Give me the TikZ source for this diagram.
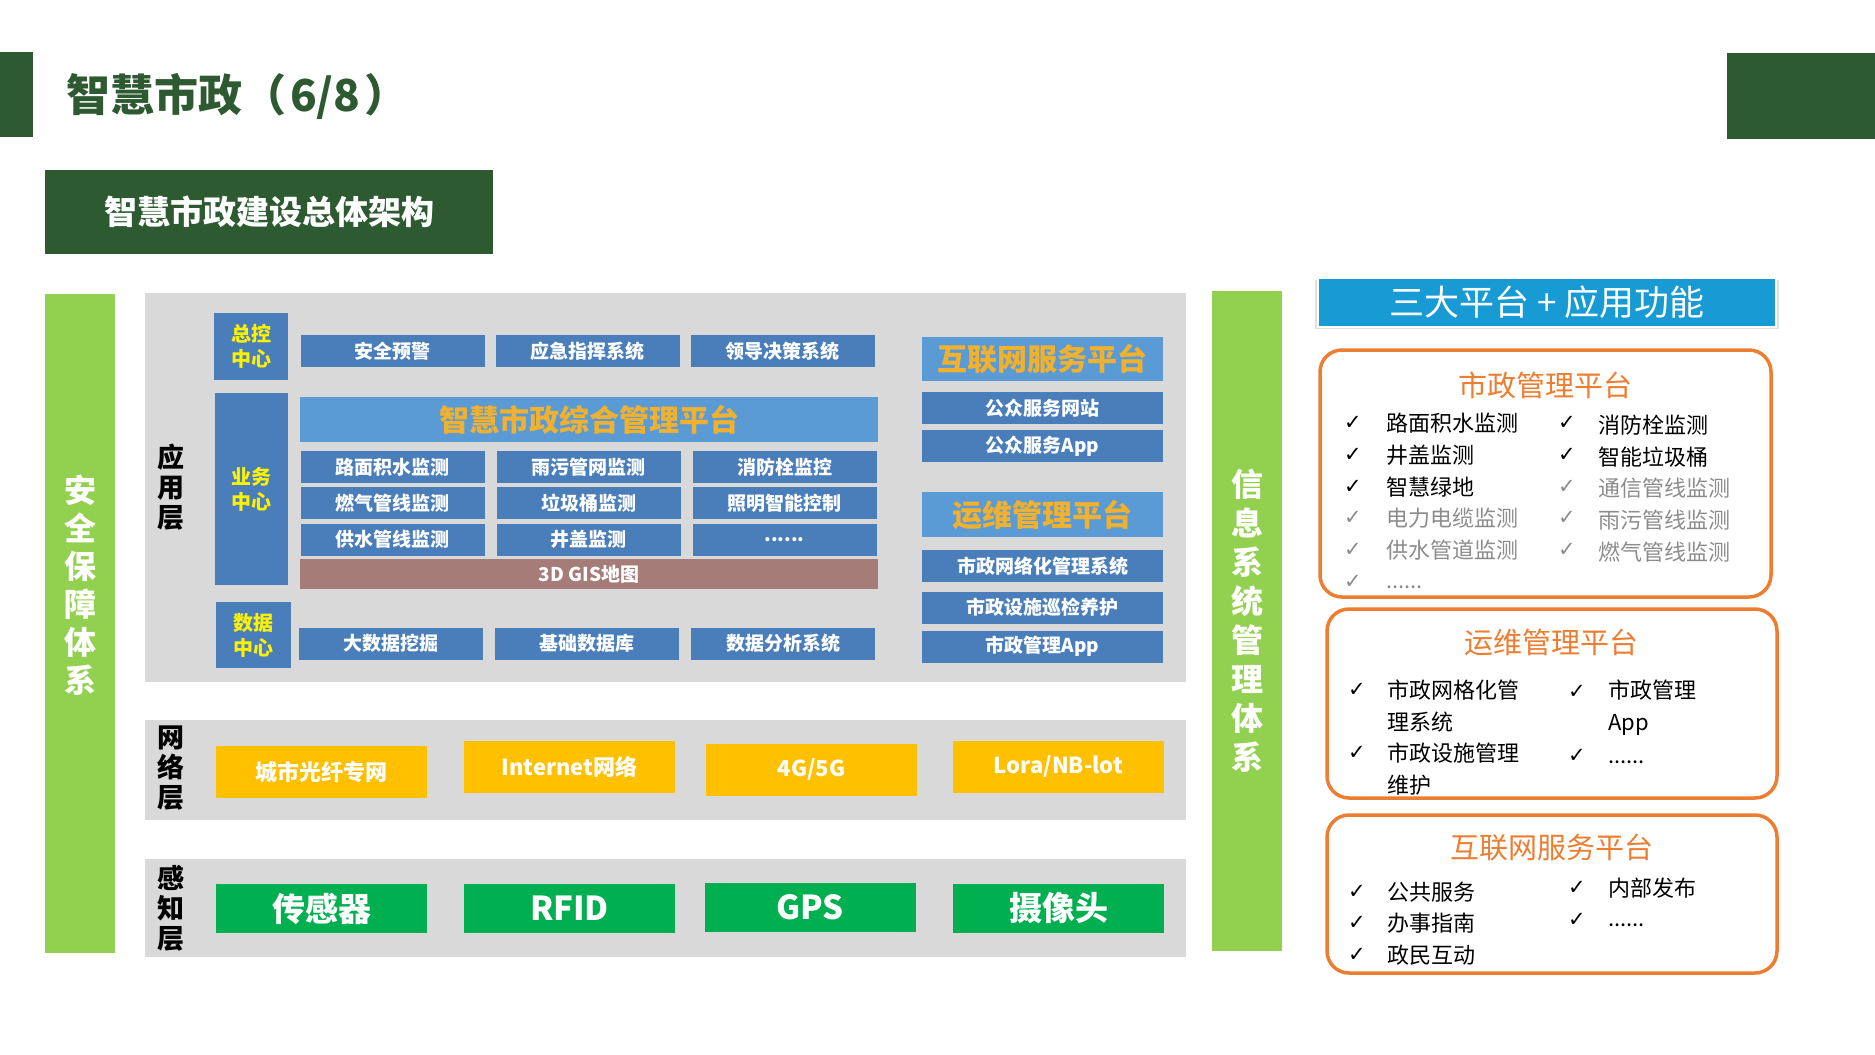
\documentclass[tikz,border=0pt]{standalone}
\usepackage{fontspec}
\setmainfont{Noto Sans CJK SC}
\newfontfamily\symf{DejaVu Sans}
\usetikzlibrary{positioning,shadows}

\definecolor{dkgreen}{RGB}{46,90,50}
\definecolor{ltgreen}{RGB}{146,208,80}
\definecolor{panelgray}{RGB}{217,217,217}
\definecolor{boxblue}{RGB}{74,126,187}
\definecolor{bannerblue}{RGB}{91,155,213}
\definecolor{gold}{RGB}{240,176,48}
\definecolor{gisbrown}{RGB}{166,124,120}
\definecolor{amber}{RGB}{255,192,0}
\definecolor{sensgreen}{RGB}{0,176,80}
\definecolor{orng}{RGB}{237,125,49}
\definecolor{cyanbar}{RGB}{24,154,212}
\definecolor{fadegray}{RGB}{140,140,140}

\tikzstyle{area} = [rectangle, fill=panelgray, inner sep=0pt, minimum width=1041pt]
\tikzstyle{layer} = [align=center, inner sep=0pt, font=\bfseries\fontsize{27}{30}\selectfont]
\tikzstyle{hub} = [rectangle, fill=boxblue, text=yellow, align=center, inner sep=0pt, font=\bfseries\fontsize{20}{25}\selectfont]
\tikzstyle{mod} = [rectangle, fill=boxblue, text=white, inner sep=0pt, minimum width=184pt, minimum height=32pt, font=\bfseries\fontsize{19}{19}\selectfont]
\tikzstyle{plat} = [rectangle, fill=bannerblue, text=gold, inner sep=0pt, minimum height=45pt, font=\bfseries\fontsize{30}{30}\selectfont]
\tikzstyle{net} = [rectangle, fill=amber, text=white, inner sep=0pt, minimum width=211pt, minimum height=52pt, font=\bfseries\fontsize{22}{22}\selectfont]
\tikzstyle{sens} = [rectangle, fill=sensgreen, text=white, inner sep=0pt, minimum width=211pt, minimum height=49pt, font=\bfseries\fontsize{33}{33}\selectfont]
\tikzstyle{pillar} = [rectangle, fill=ltgreen, text=white, align=center, inner sep=0pt, minimum width=70pt, minimum height=660pt, font=\bfseries\fontsize{32}{39}\selectfont]
\tikzstyle{card} = [rectangle, rounded corners=22pt, draw=orng, line width=3.5pt, fill=white, inner sep=0pt]
\tikzstyle{cardtitle} = [text=orng, inner sep=0pt, font=\fontsize{29}{29}\selectfont]
\tikzstyle{tick} = [inner sep=0pt, font=\symf\fontsize{21}{21}\selectfont]
\tikzstyle{feat} = [anchor=west, align=left, inner sep=0pt, font=\fontsize{22}{32}\selectfont]
\tikzstyle{faded} = [text=fadegray]

\begin{document}
\begin{tikzpicture}[x=1pt,y=-1pt,node distance=196pt]
  \useasboundingbox (0,0) rectangle (1875,1055);

  % header
  \node[fill=dkgreen, inner sep=0pt, minimum width=33pt, minimum height=85pt] (tabL) at (16.5,94.5) {};
  \node[fill=dkgreen, inner sep=0pt, minimum width=148pt, minimum height=86pt] (tabR) at (1801,96) {};
  \node[anchor=west, inner sep=0pt, text=dkgreen, font=\bfseries\fontsize{44}{44}\selectfont] (title) at (66,96) {智慧市政（\hspace{4pt}6/8\hspace{4pt}）};
  \node[fill=dkgreen, text=white, inner sep=0pt, minimum width=448pt, minimum height=84pt, font=\bfseries\fontsize{33}{33}\selectfont] (sub) at (269,212) {智慧市政建设总体架构};

  % side pillars
  \node[pillar, minimum height=659pt] (safe) at (80,623.5) {};
  \node[align=center, text=white, inner sep=0pt, font=\bfseries\fontsize{32}{38}\selectfont] (safeT) at (80,585) {安\\全\\保\\障\\体\\系};
  \node[pillar] (info) at (1247,621) {信\\息\\系\\统\\管\\理\\体\\系};

  % application layer
  \node[area, minimum height=389pt] (app) at (665,487.5) {};
  \node[layer] (appL) at (171,487.5) {应\\用\\层};
  \node[hub, minimum width=74pt, minimum height=67pt] (ctrl) at (251,346.5) {总控\\中心};
  \node[hub, minimum width=73pt, minimum height=192pt] (biz) at (251.5,489) {业务\\中心};
  \node[hub, minimum width=75pt, minimum height=66pt] (data) at (253.5,635) {数据\\中心};

  \node[mod] (warn) at (392.5,351) {安全预警};
  \node[mod] (cmd) [right of=warn, node distance=195pt] {应急指挥系统};
  \node[mod] (lead) [right of=cmd, node distance=195pt] {领导决策系统};

  \node[plat, minimum width=578pt] (core) at (589,419.5) {智慧市政综合管理平台};
  \node[mod] (m11) at (392.5,467) {路面积水监测};
  \node[mod] (m12) [right of=m11] {雨污管网监测};
  \node[mod] (m13) [right of=m12] {消防栓监控};
  \node[mod] (m21) at (392.5,503) {燃气管线监测};
  \node[mod] (m22) [right of=m21] {垃圾桶监测};
  \node[mod] (m23) [right of=m22] {照明智能控制};
  \node[mod] (m31) at (392.5,539.5) {供水管线监测};
  \node[mod] (m32) [right of=m31] {井盖监测};
  \node[mod] (m33) [right of=m32] {......};
  \node[rectangle, fill=gisbrown, text=white, inner sep=0pt, minimum width=578pt, minimum height=30pt, font=\bfseries\fontsize{19}{19}\selectfont] (gis) at (589,574) {3D GIS地图};

  \node[mod] (mine) at (391,643.5) {大数据挖掘};
  \node[mod] (base) [right of=mine] {基础数据库};
  \node[mod] (anal) [right of=base] {数据分析系统};

  \node[plat, minimum width=241pt, minimum height=44pt] (web) at (1042.5,359) {互联网服务平台};
  \node[mod, minimum width=241pt] (site) at (1042.5,408) {公众服务网站};
  \node[mod, minimum width=241pt] (papp) at (1042.5,446) {公众服务App};
  \node[plat, minimum width=241pt] (ops) at (1042.5,514.5) {运维管理平台};
  \node[mod, minimum width=241pt] (grid) at (1042.5,566) {市政网络化管理系统};
  \node[mod, minimum width=241pt] (patrol) at (1042.5,607.5) {市政设施巡检养护};
  \node[mod, minimum width=241pt] (mapp) at (1042.5,646.5) {市政管理App};

  % network layer
  \node[area, minimum height=100pt] (netA) at (665.5,770) {};
  \node[layer] (netL) at (171,768) {网\\络\\层};
  \node[net] (fiber) at (321,772) {城市光纤专网};
  \node[net] (inet) at (569.5,767) {Internet网络};
  \node[net] (cell) at (811.5,770) {4G/5G};
  \node[net] (lora) at (1058.5,767) {Lora/NB-lot};

  % sensing layer
  \node[area, minimum height=98pt] (sensA) at (665.5,908) {};
  \node[layer] (sensL) at (171,908) {感\\知\\层};
  \node[sens] (sensor) at (321.5,908.5) {传感器};
  \node[sens] (rfid) at (569.5,908.5) {RFID};
  \node[sens] (gps) at (810,907.5) {GPS};
  \node[sens] (cam) at (1058.5,908.5) {摄像头};

  % right panel
  \node[fill=cyanbar, text=white, draw=white, line width=2pt, inner sep=0pt, minimum width=458pt, minimum height=49pt,
        font=\fontsize{35}{35}\selectfont, drop shadow={shadow xshift=0pt, shadow yshift=-2pt, shadow scale=1.015, opacity=0.25}] (head) at (1547,302.5) {三大平台 + 应用功能};

  \node[card, minimum width=451pt, minimum height=247pt] (mgmt) at (1545.5,473.5) {};
  \node[cardtitle] (mgmtT) at (1545,385) {市政管理平台};
  \node[tick] (k1) at (1353,423) {✓};
  \node[feat] (g1) at (1386,423) {路面积水监测};
  \node[tick] (k2) at (1353,455) {✓};
  \node[feat] (g2) at (1386,455) {井盖监测};
  \node[tick] (k3) at (1353,487) {✓};
  \node[feat] (g3) at (1386,487) {智慧绿地};
  \node[tick, faded] (k4) at (1353,518) {✓};
  \node[feat, faded] (g4) at (1386,518) {电力电缆监测};
  \node[tick, faded] (k5) at (1353,550) {✓};
  \node[feat, faded] (g5) at (1386,550) {供水管道监测};
  \node[tick, faded] (k6) at (1353,582) {✓};
  \node[feat, faded] (g6) at (1386,587) {......};
  \node[tick] (k7) at (1567,423) {✓};
  \node[feat] (g7) at (1598,425) {消防栓监测};
  \node[tick] (k8) at (1567,455) {✓};
  \node[feat] (g8) at (1598,457) {智能垃圾桶};
  \node[tick, faded] (k9) at (1567,487) {✓};
  \node[feat, faded] (g9) at (1598,488) {通信管线监测};
  \node[tick, faded] (k10) at (1567,518) {✓};
  \node[feat, faded] (g10) at (1598,520) {雨污管线监测};
  \node[tick, faded] (k11) at (1567,550) {✓};
  \node[feat, faded] (g11) at (1598,552) {燃气管线监测};

  \node[card, minimum width=450pt, minimum height=189pt] (opsC) at (1552,703.5) {};
  \node[cardtitle] (opsT) at (1551,642) {运维管理平台};
  \node[tick] (p1) at (1357,690) {✓};
  \node[feat] (q1) at (1387,706) {市政网格化管\\理系统};
  \node[tick] (p2) at (1357,753) {✓};
  \node[feat] (q2) at (1387,769) {市政设施管理\\维护};
  \node[tick] (p3) at (1577,692) {✓};
  \node[feat] (q3) at (1608,707.5) {市政管理\\App};
  \node[tick] (p4) at (1577,756) {✓};
  \node[feat] (q4) at (1608,762) {......};

  \node[card, minimum width=450pt, minimum height=158pt] (webC) at (1552,894) {};
  \node[cardtitle] (webT) at (1552,848) {互联网服务平台};
  \node[tick] (w1) at (1357,892) {✓};
  \node[feat] (v1) at (1387,892) {公共服务};
  \node[tick] (w2) at (1357,923) {✓};
  \node[feat] (v2) at (1387,923) {办事指南};
  \node[tick] (w3) at (1357,955) {✓};
  \node[feat] (v3) at (1387,955) {政民互动};
  \node[tick] (w4) at (1577,888) {✓};
  \node[feat] (v4) at (1608,888) {内部发布};
  \node[tick] (w5) at (1577,920) {✓};
  \node[feat] (v5) at (1608,925) {......};
\end{tikzpicture}
\end{document}
